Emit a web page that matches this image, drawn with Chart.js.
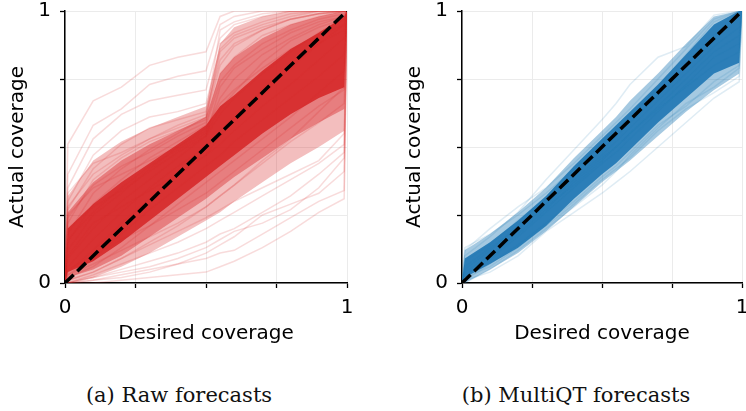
<!DOCTYPE html>
<html><head><meta charset="utf-8">
<script src="https://cdn.jsdelivr.net/npm/chart.js@4/dist/chart.umd.min.js"></script>
<style>
body{margin:0;background:#fff;width:746px;height:411px;overflow:hidden;position:relative}
canvas{position:absolute;top:0}
.cap{position:absolute;font-family:"DejaVu Serif",serif;font-size:21px;line-height:24px;color:#111;white-space:nowrap;transform:translateX(-50%);top:383px}
</style></head><body>
<canvas id="cA" width="373" height="353" style="left:0"></canvas>
<canvas id="cB" width="349" height="353" style="left:397px"></canvas>
<div class="cap" style="left:179px">(a) Raw forecasts</div>
<div class="cap" style="left:576px">(b) MultiQT forecasts</div>
<script>
// desired coverage levels (x) shared by every curve
const desired = [0,0.01,0.1,0.2,0.3,0.4,0.5,0.55,0.6,0.7,0.8,0.9,0.99,1];
const diagonal = [0,1];
const tickValues = [0,0.25,0.5,0.75,1];
const tickLabels = ['0','','','','1'];

// Raw forecasts: density envelopes (outer, inner, core)
const rawMidLow    = [0,0,.02,.06,.11,.17,.23,.26,.30,.37,.44,.50,.56,1];
const rawMidHigh   = [0,.32,.45,.52,.57,.61,.65,.88,.94,.98,1,1,1,1];
const rawInnerLow  = [0,.02,.05,.10,.17,.24,.31,.35,.39,.46,.53,.59,.64,1];
const rawInnerHigh = [0,.26,.37,.45,.51,.56,.61,.77,.83,.90,.95,.98,1,1];
const rawCoreLow   = [0,.04,.08,.15,.23,.31,.39,.43,.47,.55,.62,.68,.72,1];
const rawCoreHigh  = [0,.20,.29,.37,.44,.51,.58,.65,.69,.78,.86,.92,.98,1];
// Raw forecasts: individual curves
const rawUpper = [
 [0,.51,.67,.72,.80,.83,.85,.98,1,1,1,1,1,1],
 [0,.40,.58,.64,.73,.76,.78,.95,.98,1,1,1,1,1],
 [0,.35,.53,.62,.67,.69,.71,.90,.95,.98,1,1,1,1],
 [0,.30,.47,.56,.61,.63,.66,.86,.91,.95,.98,1,1,1],
 [0,.27,.42,.51,.57,.60,.63,.82,.88,.93,.97,.99,1,1],
 [0,.33,.44,.48,.53,.58,.62,.93,.96,.99,1,1,1,1]
];
const rawMiddle = [
 [0,.22,.38,.46,.52,.56,.60,.88,.92,.96,.99,1,1,1],
 [0,.18,.33,.42,.49,.55,.61,.80,.87,.93,.97,.99,1,1],
 [0,.15,.29,.38,.46,.52,.58,.74,.80,.88,.93,.97,.99,1],
 [0,.12,.25,.33,.42,.50,.56,.68,.75,.84,.90,.95,.98,1],
 [0,.09,.20,.30,.38,.46,.54,.62,.68,.77,.85,.92,.97,1],
 [0,.06,.16,.26,.35,.43,.50,.56,.61,.70,.79,.88,.95,1],
 [0,.04,.12,.22,.31,.40,.47,.51,.56,.65,.73,.82,.90,1],
 [0,.03,.09,.18,.27,.35,.43,.47,.52,.60,.68,.76,.84,1],
 [0,.02,.06,.13,.21,.29,.37,.41,.45,.53,.61,.70,.78,1],
 [0,.01,.04,.09,.15,.21,.28,.32,.36,.45,.53,.63,.72,1],
 [0,.05,.10,.16,.21,.27,.33,.37,.41,.49,.57,.65,.71,1],
 [0,.03,.07,.12,.17,.22,.28,.32,.36,.44,.52,.59,.66,1],
 [0,.20,.28,.34,.41,.48,.54,.72,.79,.86,.92,.96,.98,1],
 [0,.25,.35,.40,.45,.50,.57,.66,.71,.79,.86,.91,.95,1],
 [0,.10,.22,.28,.34,.40,.47,.54,.60,.71,.80,.88,.93,1],
 [0,.28,.40,.47,.53,.57,.61,.85,.90,.94,.97,.99,1,1],
 [0,.24,.36,.43,.48,.54,.59,.77,.83,.91,.95,.98,1,1],
 [0,.16,.26,.35,.43,.49,.55,.64,.70,.81,.89,.94,.97,1]
];
const rawLower = [
 [0,0,.01,.03,.05,.07,.09,.11,.12,.18,.24,.30,.34,1],
 [0,0,0,.01,.02,.03,.04,.06,.08,.13,.19,.26,.31,1],
 [0,0,.02,.05,.08,.11,.15,.18,.20,.26,.32,.40,.48,1],
 [0,0,.03,.07,.11,.15,.20,.23,.26,.32,.38,.44,.51,1],
 [0,.01,.04,.09,.14,.19,.24,.27,.30,.35,.40,.45,.55,1],
 [0,0,.01,.02,.04,.07,.11,.14,.17,.25,.29,.33,.41,1],
 [0,0,.02,.04,.06,.09,.13,.16,.19,.22,.27,.35,.46,1]
];

// MultiQT forecasts: density envelopes
const mqtMidLow   = [0,0,.05,.11,.19,.28,.37,.41,.45,.54,.63,.71,.77,1];
const mqtMidHigh  = [0,.12,.18,.26,.35,.46,.56,.61,.67,.77,.88,.98,1,1];
const mqtCoreLow  = [0,.02,.07,.13,.21,.31,.40,.44,.49,.59,.68,.77,.81,1];
const mqtCoreHigh = [0,.09,.15,.23,.32,.43,.53,.58,.63,.73,.84,.95,1,1];
// MultiQT forecasts: individual curves
const mqtUpper = [
 [0,.10,.17,.26,.38,.49,.60,.66,.73,.83,.87,.985,1,1],
 [0,.12,.20,.28,.35,.44,.54,.59,.64,.75,.86,.97,1,1],
 [0,.13,.18,.25,.33,.42,.51,.56,.61,.72,.84,.96,1,1]
];
const mqtMiddle = [
 [0,.05,.12,.21,.29,.38,.47,.52,.57,.67,.77,.87,.94,1],
 [0,.08,.14,.23,.31,.40,.49,.54,.59,.69,.80,.91,.98,1],
 [0,.03,.09,.17,.26,.35,.44,.48,.53,.63,.73,.83,.88,1],
 [0,.06,.13,.20,.28,.36,.45,.50,.55,.65,.75,.85,.91,1],
 [0,.04,.10,.18,.27,.37,.46,.50,.55,.64,.72,.80,.85,1]
];
const mqtLower = [
 [0,.01,.04,.10,.19,.26,.33,.37,.41,.50,.59,.68,.74,1],
 [0,.02,.06,.13,.21,.29,.38,.42,.46,.56,.64,.70,.76,1],
 [0,0,.05,.12,.20,.28,.36,.41,.47,.57,.66,.72,.79,1],
 [0,.01,.07,.14,.22,.30,.39,.43,.48,.58,.65,.74,.80,1]
];

const pts = ys => ys.map((y,i)=>({x:desired[i], y}));

function band(ds, rgb, low, high, alpha, order){
  const iLow = ds.length;
  ds.push({data:pts(low), borderColor:'transparent', borderWidth:1, order, fill:false});
  ds.push({data:pts(high), borderColor:'transparent', borderWidth:1, order, fill:iLow, backgroundColor:`rgba(${rgb},${alpha})`});
}

function buildDatasets(rgb, bands, curves, lineAlpha){
  const ds = [];
  ds.push({data: diagonal.map(v=>({x:v,y:v})), borderColor:'#000', borderWidth:3.5, borderDash:[12,5], order:0, fill:false});
  curves.forEach(c=>ds.push({data:pts(c), borderColor:`rgba(${rgb},${lineAlpha})`, borderWidth:1.5, order:1, fill:false}));
  bands.forEach((b,k)=>band(ds, rgb, b[0], b[1], b[2], 10-k));
  return ds;
}

function makeScales(){
  const font = {family:'"DejaVu Sans", sans-serif', size:20};
  const common = {
    type:'linear', min:0, max:1,
    afterBuildTicks: s => { s.ticks = tickValues.map(v=>({value:v})); },
    grid:{color:'#ebebeb', lineWidth:1, tickColor:'#000', tickLength:5, tickWidth:1.3},
    border:{color:'#000', width:1.5}
  };
  return {
    x: Object.assign({}, common, {
      ticks:{font, color:'#000', padding:8, maxRotation:0, autoSkip:false, callback:(v,i)=>tickLabels[i]},
      title:{display:true, text:'Desired coverage', font, color:'#000', padding:{top:0,bottom:7}},
      afterFit: s => { s.height = 70; s.paddingLeft = 0; s.paddingRight = 0; }
    }),
    y: Object.assign({}, common, {
      ticks:{font, color:'#000', padding:9, autoSkip:false, callback:(v,i)=>tickLabels[i]},
      title:{display:true, text:'Actual coverage', font, color:'#000', padding:{top:6,bottom:0}},
      afterFit: s => { s.width = 65; s.paddingTop = 0; s.paddingBottom = 0; }
    })
  };
}

function makeChart(id, datasets, padRight){
  return new Chart(document.getElementById(id), {
    type:'line',
    data:{datasets},
    options:{
      responsive:false, animation:false, devicePixelRatio:1,
      layout:{padding:{left:0, top:11, right:padRight, bottom:0}},
      elements:{point:{radius:0}, line:{tension:0}},
      plugins:{legend:{display:false}, tooltip:{enabled:false}},
      scales: makeScales()
    }
  });
}

makeChart('cA', buildDatasets('214,39,40',
  [[rawMidLow, rawMidHigh, 0.3], [rawInnerLow, rawInnerHigh, 0.42], [rawCoreLow, rawCoreHigh, 0.88]],
  rawUpper.concat(rawMiddle, rawLower), 0.17), 26);
makeChart('cB', buildDatasets('31,119,180',
  [[mqtMidLow, mqtMidHigh, 0.4], [mqtCoreLow, mqtCoreHigh, 0.9]],
  mqtUpper.concat(mqtMiddle, mqtLower), 0.14), 4);
</script>
</body></html>
